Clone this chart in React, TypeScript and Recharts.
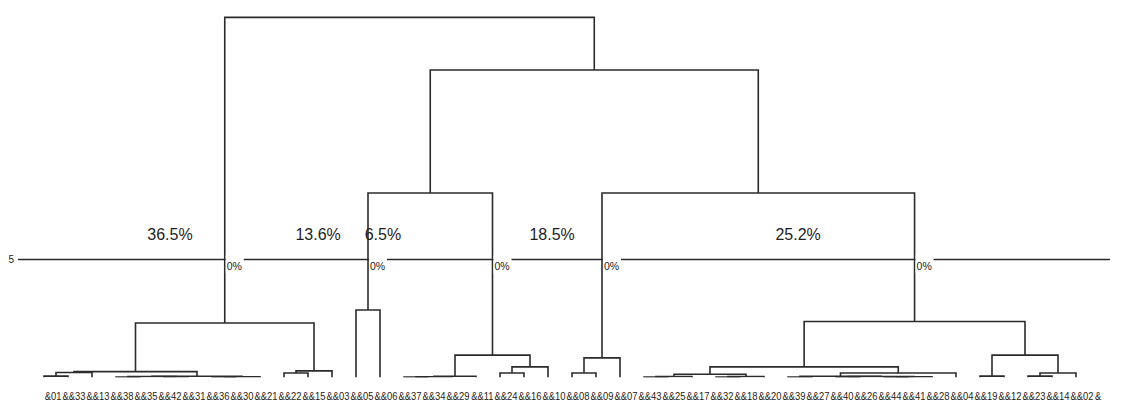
import React from "react";
import { ComposedChart, Line, Scatter, XAxis, YAxis, ReferenceLine } from "recharts";

// Leaf labels in display order (tick labels along the bottom)
const TICK_LABELS = [
  "&01", "&&33", "&&13", "&&38", "&&35", "&&42", "&&31", "&&36", "&&30", "&&21",
  "&&22", "&&15", "&&03", "&&05", "&&06", "&&37", "&&34", "&&29", "&&11", "&&24",
  "&&16", "&&10", "&&08", "&&09", "&&07", "&&43", "&&25", "&&17", "&&32", "&&18",
  "&&20", "&&39", "&&27", "&&40", "&&26", "&&44", "&&41", "&&28", "&&04", "&&19",
  "&&12", "&&23", "&&14", "&&02", "&",
];
const LEAF_COUNT = 44;

// Linkage: [left, right, height]; ids < 44 are leaves, merge k has id 44 + k
const MERGES: [number, number, number][] = [
  [0, 1, 0.06],     // 44
  [44, 2, 0.21],    // 45
  [3, 4, 0.02],     // 46
  [5, 6, 0.03],     // 47
  [46, 47, 0.04],   // 48
  [7, 8, 0.02],     // 49
  [49, 9, 0.03],    // 50
  [48, 50, 0.05],   // 51
  [45, 51, 0.25],   // 52
  [10, 11, 0.19],   // 53
  [53, 12, 0.28],   // 54
  [52, 54, 2.31],   // 55
  [13, 14, 2.86],   // 56
  [15, 16, 0.02],   // 57
  [57, 17, 0.03],   // 58
  [58, 18, 0.05],   // 59
  [19, 20, 0.19],   // 60
  [60, 21, 0.45],   // 61
  [59, 61, 0.95],   // 62
  [56, 62, 7.82],   // 63
  [22, 23, 0.19],   // 64
  [64, 24, 0.83],   // 65
  [25, 26, 0.02],   // 66
  [66, 27, 0.04],   // 67
  [28, 29, 0.02],   // 68
  [68, 30, 0.04],   // 69
  [67, 69, 0.14],   // 70
  [31, 32, 0.02],   // 71
  [33, 34, 0.02],   // 72
  [35, 36, 0.02],   // 73
  [73, 37, 0.03],   // 74
  [72, 74, 0.04],   // 75
  [71, 75, 0.05],   // 76
  [76, 38, 0.19],   // 77
  [70, 77, 0.45],   // 78
  [39, 40, 0.06],   // 79
  [41, 42, 0.06],   // 80
  [80, 43, 0.19],   // 81
  [79, 81, 0.95],   // 82
  [78, 82, 2.37],   // 83
  [65, 83, 7.82],   // 84
  [63, 84, 13.03],  // 85
  [55, 85, 15.26],  // 86
];

const CUT = 5;
const PCT_LABELS = ["36.5%", "13.6%", "6.5%", "18.5%", "25.2%"];
const CUT_LABELS = ["0%", "0%", "0%", "0%", "0%"];
// horizontal anchor (in leaf units) of the percentage labels
const PCT_X = [5.25, 11.42, 14.12, 21.17, 31.42];

// ---- derived tree geometry (data units) ----
const nodeX: number[] = [];
const nodeH: number[] = [];
for (let i = 0; i < LEAF_COUNT; i++) {
  nodeX[i] = i;
  nodeH[i] = 0;
}
MERGES.forEach(([l, r, h], k) => {
  const id = LEAF_COUNT + k;
  nodeX[id] = (nodeX[l] + nodeX[r]) / 2;
  nodeH[id] = h;
});

const segments = MERGES.map(([l, r, h]) => [
  { x: nodeX[l], y: nodeH[l] },
  { x: nodeX[l], y: h },
  { x: nodeX[r], y: h },
  { x: nodeX[r], y: nodeH[r] },
]);

const cutNodes: number[] = [];
MERGES.forEach(([l, r, h]) => {
  if (h > CUT) {
    [l, r].forEach((c) => {
      if (nodeH[c] < CUT) cutNodes.push(c);
    });
  }
});
cutNodes.sort((a, b) => nodeX[a] - nodeX[b]);
const cutLabelData = cutNodes.map((c, i) => ({ x: nodeX[c], y: CUT, label: CUT_LABELS[i] }));
const pctLabelData = PCT_LABELS.map((label, i) => ({ x: PCT_X[i], y: CUT, label }));

const TICKS = TICK_LABELS.map((_, i) => i);
const FONT = "'Liberation Sans', Arial, sans-serif";
const LINE_COLOR = "#2b2b2b";

const LeafTick = (props: any) => {
  const { x, y, payload } = props;
  const isTail = payload.value >= LEAF_COUNT;
  const label = TICK_LABELS[payload.value];
  const tx = isTail ? x - 5 : x + 17.5;
  const ty = y + 22;
  return (
    <text
      transform={`translate(${tx},${ty}) scale(1,1.25)`}
      x={0}
      y={0}
      fontSize={9.4}
      fill="#2a2218"
      fontFamily={FONT}
      textAnchor={isTail ? "start" : "end"}
    >
      {label}
    </text>
  );
};

const CutLabel = (props: any) => {
  const { cx, cy, payload } = props;
  return (
    <g>
      <rect x={cx + 1} y={cy - 4} width={18} height={18} fill="#ffffff" />
      <text x={cx + 2} y={cy + 10.5} fontSize={10.5} fill="#222" fontFamily={FONT}>
        {payload.label}
      </text>
    </g>
  );
};

const PctLabel = (props: any) => {
  const { cx, cy, payload } = props;
  return (
    <text x={cx} y={cy - 20} fontSize={16} fill="#1e1e1e" fontFamily={FONT} textAnchor="middle">
      {payload.label}
    </text>
  );
};

export default function App() {
  return (
    <div
      style={{
        position: "absolute",
        left: 0,
        top: 0,
        width: 1126,
        height: 417,
        background: "#ffffff",
        fontFamily: FONT,
      }}
    >
      <ComposedChart width={1126} height={417} margin={{ top: 0, right: 16, bottom: 0, left: 0 }}>
        <XAxis
          type="number"
          dataKey="x"
          domain={[-1.0833, 44.4167]}
          allowDataOverflow
          ticks={TICKS}
          interval={0}
          height={39.5}
          axisLine={false}
          tickLine={false}
          tickSize={0}
          tickMargin={0}
          tick={<LeafTick />}
        />
        <YAxis
          type="number"
          domain={[0, 15.996]}
          allowDataOverflow
          ticks={[CUT]}
          width={18}
          axisLine={false}
          tickLine={false}
          tickSize={0}
          tickMargin={4}
          tick={{ fontSize: 10, fill: "#222", fontFamily: FONT }}
        />
        <ReferenceLine y={CUT} stroke={LINE_COLOR} strokeWidth={1.3} />
        {segments.map((seg, i) => (
          <Line
            key={i}
            data={seg}
            dataKey="y"
            type="linear"
            stroke={LINE_COLOR}
            strokeWidth={1.6}
            dot={false}
            activeDot={false}
            legendType="none"
            isAnimationActive={false}
          />
        ))}
        <Scatter data={cutLabelData} dataKey="y" shape={<CutLabel />} isAnimationActive={false} />
        <Scatter data={pctLabelData} dataKey="y" shape={<PctLabel />} isAnimationActive={false} />
      </ComposedChart>
    </div>
  );
}
